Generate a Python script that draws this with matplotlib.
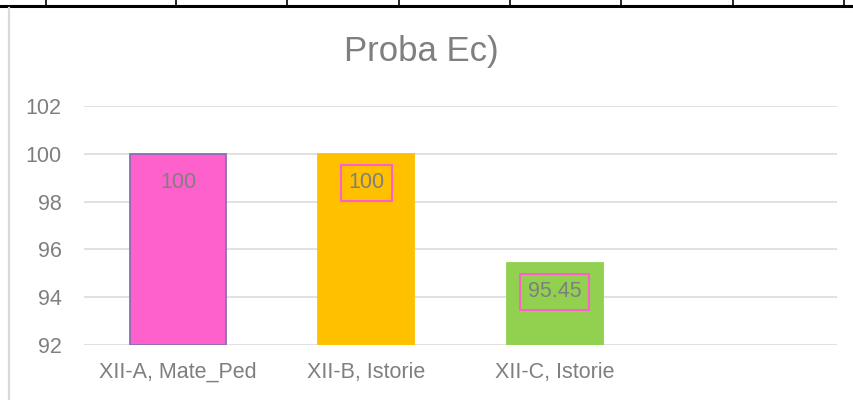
import matplotlib.pyplot as plt
from matplotlib.lines import Line2D

plt.rcParams.update({
    'font.family': ['Liberation Sans', 'DejaVu Sans'],
    'font.size': 15.5,
})

# chart data
categories = ['XII-A, Mate_Ped', 'XII-B, Istorie', 'XII-C, Istorie', '']
values = [100, 100, 95.45, None]
bar_colors = ['#FF61CC', '#FFC000', '#92D050', 'none']
edge_colors = ['#8A6FB5', '#FFC000', '#92D050', 'none']
boxed = [False, True, True, False]
yticks = [92, 94, 96, 98, 100, 102]
title = 'Proba Ec)'

text_gray = '#7F7F7F'
grid_gray = '#D9D9D9'

fig = plt.figure(figsize=(8.54, 4.0), dpi=100)

# spreadsheet cell borders showing above the chart
cell_x = [46, 176, 287, 399, 510, 621, 733, 844]
fig.add_artist(Line2D([0, 1], [1 - 5.5 / 400] * 2, color='black', lw=2.2,
                      transform=fig.transFigure))
for cx in cell_x:
    fig.add_artist(Line2D([cx / 854] * 2, [1 - 5.5 / 400, 1], color='black',
                          lw=1.2, transform=fig.transFigure))
# chart area left border
fig.add_artist(Line2D([9.5 / 854] * 2, [0, 1 - 8 / 400], color=grid_gray,
                      lw=1.6, transform=fig.transFigure))

ax = fig.add_axes([84 / 854, 1 - 345.3 / 400, 753 / 854, 239.6 / 400])

xs = list(range(len(categories)))
for x, v, fc, ec, b in zip(xs, values, bar_colors, edge_colors, boxed):
    if v is None:
        continue
    ax.bar(x, v - yticks[0], bottom=yticks[0], width=0.51, color=fc,
           edgecolor=ec, linewidth=1.3, zorder=3)
    bbox = None
    if b:
        bbox = dict(boxstyle='square,pad=0.36', facecolor='none',
                    edgecolor='#FF5FCB', linewidth=1.5)
    ax.annotate(f'{v:g}', xy=(x, v), xytext=(0, -25), textcoords='offset points',
                ha='center', va='baseline', color=text_gray, fontsize=15.5,
                bbox=bbox, zorder=4)

ax.set_xlim(-0.5, len(categories) - 0.5)
ax.set_ylim(yticks[0], yticks[-1])
ax.set_yticks(yticks)
ax.set_xticks(xs)
ax.set_xticklabels(categories)
ax.tick_params(axis='both', length=0, colors=text_gray, labelsize=15.5)
ax.tick_params(axis='y', pad=16)
ax.tick_params(axis='x', pad=12)
ax.grid(axis='y', color=grid_gray, linewidth=1.1, zorder=0)
ax.set_axisbelow(True)
for s in ax.spines.values():
    s.set_visible(False)

fig.text(421 / 854, 1 - 61 / 400, title, ha='center', va='baseline',
         color=text_gray, fontsize=25)

fig.savefig('out.png', dpi=100)
